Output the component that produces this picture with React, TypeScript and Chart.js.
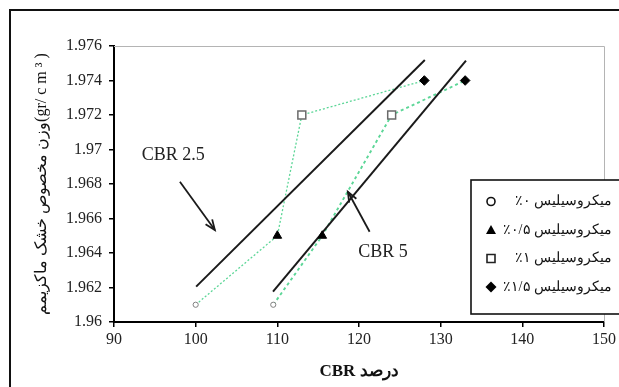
import React, { useEffect, useRef } from 'react';
import { Chart, registerables } from 'chart.js';

Chart.register(...registerables);

// ---------- data ----------
const MS_LABELS = ['٪۰ میکروسیلیس', '٪۰/۵ میکروسیلیس', '٪۱ میکروسیلیس', '٪۱/۵ میکروسیلیس'];
const CBR25 = [100, 110, 113, 128];
const CBR5 = [109.5, 115.5, 124, 133];
const DENSITY = [1.961, 1.965, 1.972, 1.974];

const TREND25_X = [100.06, 128.06];
const TREND25_Y = [1.96205, 1.97519];
const TREND5_X = [109.47, 133.1];
const TREND5_Y = [1.96176, 1.97515];

const X_TICKS = [90, 100, 110, 120, 130, 140, 150];
const Y_TICKS = [1.96, 1.962, 1.964, 1.966, 1.968, 1.97, 1.972, 1.974, 1.976];
const Y_TICK_LABELS = ['1.96', '1.962', '1.964', '1.966', '1.968', '1.97', '1.972', '1.974', '1.976'];

const X_TITLE = 'CBR درصد';
const Y_TITLE = 'وزن مخصوص خشک ماکزیمم(gr/ c m ³ )';

const ANNOT_LABELS = ['CBR 2.5', 'CBR 5'];
const ANNOT_X = [93.4, 119.9];
const ANNOT_Y = [1.96939, 1.96375];
const ARROW_FROM_X = [98.07, 121.3];
const ARROW_FROM_Y = [1.96813, 1.96523];
const ARROW_TO_X = [102.35, 118.64];
const ARROW_TO_Y = [1.96533, 1.96755];

// ---------- styles ----------
const GREEN = '#5cd697';
const SERIF = '"Liberation Serif", "Times New Roman", "DejaVu Serif", serif';
const MARKER_STYLES = [
  { style: 'circle', radius: 2.6, bg: '#ffffff', border: '#808080', bw: 1 },
  { style: 'triangle', radius: 5, bg: '#000000', border: '#000000', bw: 1 },
  { style: 'rect', radius: 5.6, bg: '#ffffff', border: '#6a6a6a', bw: 1.5 },
  { style: 'rectRot', radius: 4.8, bg: '#000000', border: '#000000', bw: 1 },
];

function drawMarker(ctx: CanvasRenderingContext2D, kind: number, x: number, y: number) {
  ctx.save();
  ctx.beginPath();
  if (kind === 0) {
    ctx.arc(x, y, 4, 0, Math.PI * 2);
    ctx.fillStyle = '#fff';
    ctx.fill();
    ctx.lineWidth = 1.6;
    ctx.strokeStyle = '#111';
    ctx.stroke();
  } else if (kind === 1) {
    ctx.moveTo(x, y - 5);
    ctx.lineTo(x + 5, y + 4);
    ctx.lineTo(x - 5, y + 4);
    ctx.closePath();
    ctx.fillStyle = '#000';
    ctx.fill();
  } else if (kind === 2) {
    ctx.rect(x - 4, y - 4, 8, 8);
    ctx.fillStyle = '#fff';
    ctx.fill();
    ctx.lineWidth = 1.6;
    ctx.strokeStyle = '#222';
    ctx.stroke();
  } else {
    ctx.moveTo(x, y - 5.5);
    ctx.lineTo(x + 5.5, y);
    ctx.lineTo(x, y + 5.5);
    ctx.lineTo(x - 5.5, y);
    ctx.closePath();
    ctx.fillStyle = '#000';
    ctx.fill();
  }
  ctx.restore();
}

const plotBorderPlugin = {
  id: 'plotBorder',
  beforeDatasetsDraw(chart: any) {
    const { ctx, chartArea: a } = chart;
    ctx.save();
    ctx.strokeStyle = '#b4b4b4';
    ctx.lineWidth = 1;
    ctx.beginPath();
    ctx.moveTo(a.left, a.top + 0.5);
    ctx.lineTo(a.right + 0.5, a.top + 0.5);
    ctx.lineTo(a.right + 0.5, a.bottom);
    ctx.stroke();
    ctx.restore();
  },
};

const annotationPlugin = {
  id: 'cbrAnnotations',
  afterDatasetsDraw(chart: any) {
    const { ctx } = chart;
    const xs = chart.scales.x;
    const ys = chart.scales.y;
    ctx.save();
    ctx.fillStyle = '#222';
    ctx.font = `18px ${SERIF}`;
    ctx.textAlign = 'left';
    ctx.textBaseline = 'alphabetic';
    ANNOT_LABELS.forEach((t, i) => {
      ctx.fillText(t, xs.getPixelForValue(ANNOT_X[i]), ys.getPixelForValue(ANNOT_Y[i]));
    });
    ctx.strokeStyle = '#1a1a1a';
    ctx.lineWidth = 1.8;
    ARROW_FROM_X.forEach((_, i) => {
      const x1 = xs.getPixelForValue(ARROW_FROM_X[i]);
      const y1 = ys.getPixelForValue(ARROW_FROM_Y[i]);
      const x2 = xs.getPixelForValue(ARROW_TO_X[i]);
      const y2 = ys.getPixelForValue(ARROW_TO_Y[i]);
      const ang = Math.atan2(y2 - y1, x2 - x1);
      const hl = 11;
      const spread = 0.38;
      ctx.beginPath();
      ctx.moveTo(x1, y1);
      ctx.lineTo(x2, y2);
      ctx.stroke();
      ctx.beginPath();
      ctx.moveTo(x2 - hl * Math.cos(ang - spread), y2 - hl * Math.sin(ang - spread));
      ctx.lineTo(x2, y2);
      ctx.lineTo(x2 - hl * Math.cos(ang + spread), y2 - hl * Math.sin(ang + spread));
      ctx.stroke();
    });
    ctx.restore();
  },
};

const legendPlugin = {
  id: 'msLegend',
  afterDraw(chart: any) {
    const { ctx, chartArea: a } = chart;
    const left = a.right - 133;
    const top = a.top + 134;
    const bottom = a.bottom - 8;
    const right = chart.width + 10;
    ctx.save();
    ctx.fillStyle = '#ffffff';
    ctx.fillRect(left, top, right - left, bottom - top);
    ctx.strokeStyle = '#111';
    ctx.lineWidth = 1.6;
    ctx.strokeRect(left, top, right - left, bottom - top);
    ctx.font = `14px ${SERIF}`;
    ctx.fillStyle = '#111';
    ctx.textAlign = 'right';
    ctx.textBaseline = 'middle';
    ctx.direction = 'ltr';
    MS_LABELS.forEach((label, i) => {
      const y = top + 21.5 + i * 28.5;
      drawMarker(ctx, i, left + 20, y);
      ctx.fillText(label, chart.width - 7, y);
    });
    ctx.restore();
  },
};

export default function App() {
  const canvasRef = useRef<HTMLCanvasElement | null>(null);

  useEffect(() => {
    const canvas = canvasRef.current;
    if (!canvas) return;

    const pts = (xs: number[], ys: number[]) => xs.map((x, i) => ({ x, y: ys[i] }));

    const markerSets = MS_LABELS.map((label, i) => ({
      label,
      data: [
        { x: CBR25[i], y: DENSITY[i] },
        { x: CBR5[i], y: DENSITY[i] },
      ],
      showLine: false,
      pointStyle: MARKER_STYLES[i].style,
      pointRadius: MARKER_STYLES[i].radius,
      pointBackgroundColor: MARKER_STYLES[i].bg,
      pointBorderColor: MARKER_STYLES[i].border,
      pointBorderWidth: MARKER_STYLES[i].bw,
      order: 0,
    }));

    const chart = new Chart(canvas, {
      type: 'line',
      data: {
        datasets: [
          ...markerSets,
          {
            label: 'trend25',
            data: pts(TREND25_X, TREND25_Y),
            borderColor: '#1a1a1a',
            borderWidth: 2,
            pointRadius: 0,
            order: 1,
          },
          {
            label: 'trend5',
            data: pts(TREND5_X, TREND5_Y),
            borderColor: '#1a1a1a',
            borderWidth: 2,
            pointRadius: 0,
            order: 1,
          },
          {
            label: 'cbr25',
            data: pts(CBR25, DENSITY),
            borderColor: GREEN,
            borderWidth: 1.3,
            borderDash: [2, 2],
            pointRadius: 0,
            order: 2,
          },
          {
            label: 'cbr5',
            data: pts(CBR5, DENSITY),
            borderColor: GREEN,
            borderWidth: 1.9,
            borderDash: [3, 3],
            pointRadius: 0,
            order: 2,
          },
        ] as any,
      },
      options: {
        responsive: false,
        animation: false,
        devicePixelRatio: 1,
        layout: { padding: { left: 0, top: 46, right: 14, bottom: 0 } },
        plugins: {
          legend: { display: false },
          tooltip: { enabled: false },
          title: { display: false },
        },
        elements: { line: { tension: 0 } },
        scales: {
          x: {
            type: 'linear',
            min: 90,
            max: 150,
            afterBuildTicks: (s: any) => {
              s.ticks = X_TICKS.map((v) => ({ value: v }));
            },
            afterFit: (s: any) => {
              s.height = 65;
            },
            ticks: {
              font: { family: SERIF, size: 16 },
              color: '#222',
              padding: 3,
              maxRotation: 0,
            },
            grid: {
              drawOnChartArea: false,
              drawTicks: true,
              tickLength: 5,
              color: '#000',
              lineWidth: 1.5,
            },
            border: { display: true, color: '#000', width: 2 },
            title: {
              display: true,
              text: X_TITLE,
              font: { family: SERIF, size: 17, weight: 'bold' },
              color: '#111',
              padding: { top: 0, bottom: 5 },
            },
          },
          y: {
            type: 'linear',
            min: 1.96,
            max: 1.976,
            afterBuildTicks: (s: any) => {
              s.ticks = Y_TICKS.map((v) => ({ value: v }));
            },
            afterFit: (s: any) => {
              s.width = 114;
            },
            ticks: {
              callback: (_v: any, i: number) => Y_TICK_LABELS[i],
              font: { family: SERIF, size: 16 },
              color: '#222',
              padding: 7,
            },
            grid: {
              drawOnChartArea: false,
              drawTicks: true,
              tickLength: 5,
              color: '#000',
              lineWidth: 1.5,
            },
            border: { display: true, color: '#000', width: 2 },
            title: {
              display: true,
              text: Y_TITLE,
              font: { family: SERIF, size: 16 },
              color: '#111',
              padding: { top: 32, bottom: 0 },
            },
          },
        },
      } as any,
      plugins: [plotBorderPlugin, annotationPlugin, legendPlugin],
    });

    return () => {
      chart.destroy();
    };
  }, []);

  return (
    <div
      style={{
        position: 'fixed',
        left: 0,
        top: 0,
        width: 619,
        height: 387,
        background: '#ffffff',
        overflow: 'hidden',
      }}
    >
      <canvas
        ref={canvasRef}
        width={619}
        height={387}
        style={{ position: 'absolute', left: 0, top: 0, width: 619, height: 387, display: 'block' }}
      />
      <div
        style={{
          position: 'absolute',
          left: 9,
          top: 9,
          width: 640,
          height: 420,
          borderTop: '2px solid #111',
          borderLeft: '2px solid #111',
          pointerEvents: 'none',
        }}
      />
    </div>
  );
}
